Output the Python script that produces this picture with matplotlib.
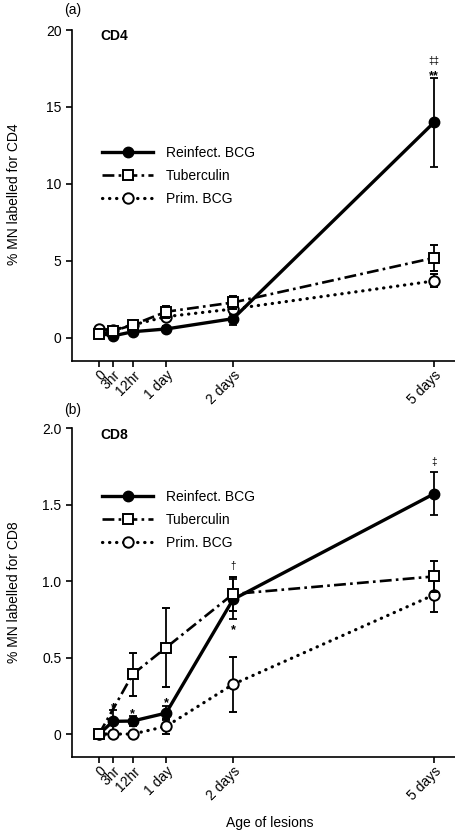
import numpy as np
import matplotlib
matplotlib.use("Agg")
import matplotlib.pyplot as plt
import matplotlib.transforms as mtransforms
from matplotlib.lines import Line2D

plt.rcParams['font.family'] = ['Liberation Sans', 'DejaVu Sans']

# ---------------- data ----------------
tick_labels = ["0", "3hr", "12hr", "1 day", "2 days", "5 days"]
tick_pos = [0, 5, 12, 24, 48, 120]          # plotting position of each time point

# CD4 panel (a)
cd4_reinf_x = [0, 5, 12, 24, 48, 120]
cd4_reinf = [0.3, 0.13, 0.4, 0.58, 1.25, 14.0]
cd4_reinf_err = [0.1, 0.1, 0.15, 0.2, 0.4, 2.9]
cd4_tub_x = [0, 5, 12, 24, 48, 120]
cd4_tub = [0.26, 0.45, 0.84, 1.7, 2.3, 5.2]
cd4_tub_err = [0.1, 0.15, 0.15, 0.4, 0.4, 0.85]
cd4_prim_x = [0, 5, 12, 24, 48, 120]
cd4_prim = [0.58, 0.5, 0.84, 1.38, 1.88, 3.7]
cd4_prim_err = [0.1, 0.1, 0.15, 0.3, 0.3, 0.42]

# CD8 panel (b)
cd8_reinf_x = [0, 5, 12, 24, 48, 120]
cd8_reinf = [0.0, 0.083, 0.085, 0.137, 0.88, 1.57]
cd8_reinf_err = [0.0, 0.075, 0.035, 0.045, 0.13, 0.14]
cd8_tub_x = [0, 12, 24, 48, 120]
cd8_tub = [0.0, 0.39, 0.565, 0.915, 1.03]
cd8_tub_err = [0.0, 0.14, 0.26, 0.11, 0.1]
cd8_prim_x = [0, 5, 12, 24, 48, 120]
cd8_prim = [0.0, 0.0, 0.0, 0.05, 0.325, 0.91]
cd8_prim_err = [0.0, 0.0, 0.0, 0.05, 0.18, 0.115]

series_names = ["Reinfect. BCG", "Tuberculin", "Prim. BCG"]

# significance marks: (x position, baseline y value, text)
cd4_marks = [(120, 16.8, "**"), (120, 17.82, "‡‡")]
cd8_marks = [(5, 0.148, "*"), (12, 0.109, "*"), (24, 0.18, "*"),
             (48, 0.656, "*"), (48, 1.077, "†"), (120, 1.755, "‡")]

FS = 10

fig = plt.figure(figsize=(4.56, 8.35), dpi=100)
W, H = 456, 835

STYLES = [
    dict(color='black', lw=2.4, ls='-', marker='o', ms=7.5, mfc='black', mec='black'),
    dict(color='black', lw=1.9, ls=(0, (4.5, 1.6, 1.0, 1.6)), marker='s', ms=7,
         mfc='white', mec='black', mew=1.4),
    dict(color='black', lw=2.3, ls=(0, (0.1, 2.1)), marker='o', ms=7.5,
         mfc='white', mec='black', mew=1.4, dash_capstyle='round'),
]


def add_axes(px_left, px_top, px_right, px_bottom):
    return fig.add_axes([px_left / W, 1 - px_bottom / H,
                         (px_right - px_left) / W, (px_bottom - px_top) / H])


def draw_panel(ax, data, ylim, yticks, yticklabels, marks, legend_anchor):
    kw_err = dict(ecolor='black', elinewidth=1.3, capsize=3.2, capthick=1.3)
    zorders = [3, 5, 4]
    for (x, y, e), st, z in zip(data, STYLES, zorders):
        ax.errorbar(x, y, yerr=e, zorder=z, **st, **kw_err)
    ax.set_xlim(-9.7, 127.5)
    ax.set_ylim(*ylim)
    ax.set_yticks(yticks)
    ax.set_yticklabels(yticklabels)
    ax.set_xticks(tick_pos)
    ax.set_xticklabels(tick_labels, rotation=45, ha='right', rotation_mode='anchor')
    offset = mtransforms.ScaledTranslation(3 / 100, 0, fig.dpi_scale_trans)
    for lab in ax.get_xticklabels():
        lab.set_transform(lab.get_transform() + offset)
    for s in ['top', 'right']:
        ax.spines[s].set_visible(False)
    for s in ['left', 'bottom']:
        ax.spines[s].set_linewidth(1.2)
    ax.tick_params(direction='out', length=4.5, width=1.2, labelsize=FS, pad=3)
    ax.tick_params(axis='x', pad=0.5)
    for x, y, s in marks:
        if s.startswith('*'):
            ax.text(x, y, s, ha='center', va='baseline', fontsize=9, fontweight='bold')
        else:
            ax.text(x, y, s, ha='center', va='baseline', fontsize=7)
    handles = [Line2D([], [], **st) for st in STYLES]
    ax.legend(handles, series_names, frameon=False, fontsize=FS,
              loc='upper left', bbox_to_anchor=legend_anchor,
              bbox_transform=fig.transFigure, handlelength=3.7,
              handletextpad=0.9, labelspacing=0.65, borderpad=0,
              borderaxespad=0)


ax1 = add_axes(72, 30, 455, 361)
draw_panel(ax1,
           [(cd4_reinf_x, cd4_reinf, cd4_reinf_err),
            (cd4_tub_x, cd4_tub, cd4_tub_err),
            (cd4_prim_x, cd4_prim, cd4_prim_err)],
           (-1.5, 20), [0, 5, 10, 15, 20], ["0", "5", "10", "15", "20"],
           cd4_marks, (102 / W, 1 - 146 / H))

ax2 = add_axes(72, 428, 455, 757)
draw_panel(ax2,
           [(cd8_reinf_x, cd8_reinf, cd8_reinf_err),
            (cd8_tub_x, cd8_tub, cd8_tub_err),
            (cd8_prim_x, cd8_prim, cd8_prim_err)],
           (-0.15, 2.0), [0, 0.5, 1.0, 1.5, 2.0], ["0", "0.5", "1.0", "1.5", "2.0"],
           cd8_marks, (102 / W, 1 - 490 / H))

fig.text(64 / W, 1 - 10 / H, "(a)", fontsize=FS, ha='left', va='center')
fig.text(64 / W, 1 - 410 / H, "(b)", fontsize=FS, ha='left', va='center')
fig.text(100 / W, 1 - 36 / H, "CD4", fontsize=FS, fontweight='bold', ha='left', va='center')
fig.text(100 / W, 1 - 435 / H, "CD8", fontsize=FS, fontweight='bold', ha='left', va='center')
fig.text(14 / W, 1 - 194 / H, "% MN labelled for CD4", fontsize=FS, rotation=90,
         ha='center', va='center')
fig.text(14 / W, 1 - 592 / H, "% MN labelled for CD8", fontsize=FS, rotation=90,
         ha='center', va='center')
fig.text(270 / W, 1 - 823 / H, "Age of lesions", fontsize=FS, ha='center', va='center')

fig.savefig("out.png", dpi=100)
